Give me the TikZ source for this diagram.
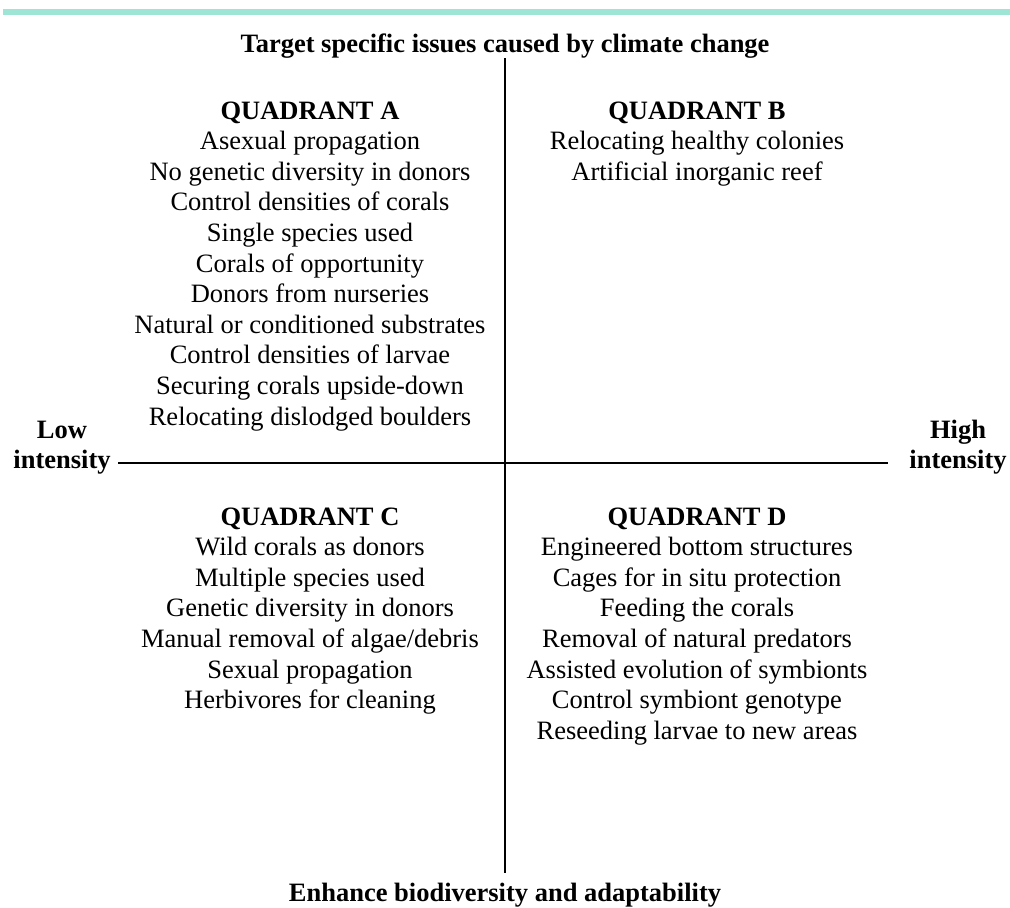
\documentclass[tikz,border=0pt]{standalone}
\usepackage{fontspec}
\setmainfont{Liberation Serif}
\definecolor{mint}{HTML}{9FE5D5}
\begin{document}
\begin{tikzpicture}[x=1pt,y=-1pt,
  txt/.style={font=\fontsize{26.5}{30.6}\selectfont, align=center, inner sep=0pt, anchor=base},
  ttl/.style={font=\fontsize{26.5}{30.6}\selectfont\bfseries, align=center, inner sep=0pt, anchor=base},
  axis/.style={line width=2pt, black}]
\useasboundingbox (0,0) rectangle (1010,908);
\fill[mint] (3,9) rectangle (1010,15);
\node[ttl] (top) at (505,52) {Target specific issues caused by climate change};
\node[ttl] (bot) at (505,901) {Enhance biodiversity and adaptability};
\node[ttl] (low) at (62,468.6) {Low\\intensity};
\node[ttl] (high) at (958,468.6) {High\\intensity};
\node[txt] (qa) at (310,425) {\textbf{QUADRANT A}\\Asexual propagation\\No genetic diversity in donors\\Control densities of corals\\Single species used\\Corals of opportunity\\Donors from nurseries\\Natural or conditioned substrates\\Control densities of larvae\\Securing corals upside-down\\Relocating dislodged boulders};
\node[txt] (qb) at (697,180.2) {\textbf{QUADRANT B}\\Relocating healthy colonies\\Artificial inorganic reef};
\node[txt] (qc) at (310,708.6) {\textbf{QUADRANT C}\\Wild corals as donors\\Multiple species used\\Genetic diversity in donors\\Manual removal of algae/debris\\Sexual propagation\\Herbivores for cleaning};
\node[txt] (qd) at (697,739.2) {\textbf{QUADRANT D}\\Engineered bottom structures\\Cages for in situ protection\\Feeding the corals\\Removal of natural predators\\Assisted evolution of symbionts\\Control symbiont genotype\\Reseeding larvae to new areas};
\coordinate (vt) at (505,58);
\coordinate (vb) at (505,873);
\coordinate (hl) at (118,463);
\coordinate (hr) at (888,463);
\draw[axis] (vt) -- (vb);
\draw[axis] (hl) -- (hr);
\end{tikzpicture}
\end{document}
